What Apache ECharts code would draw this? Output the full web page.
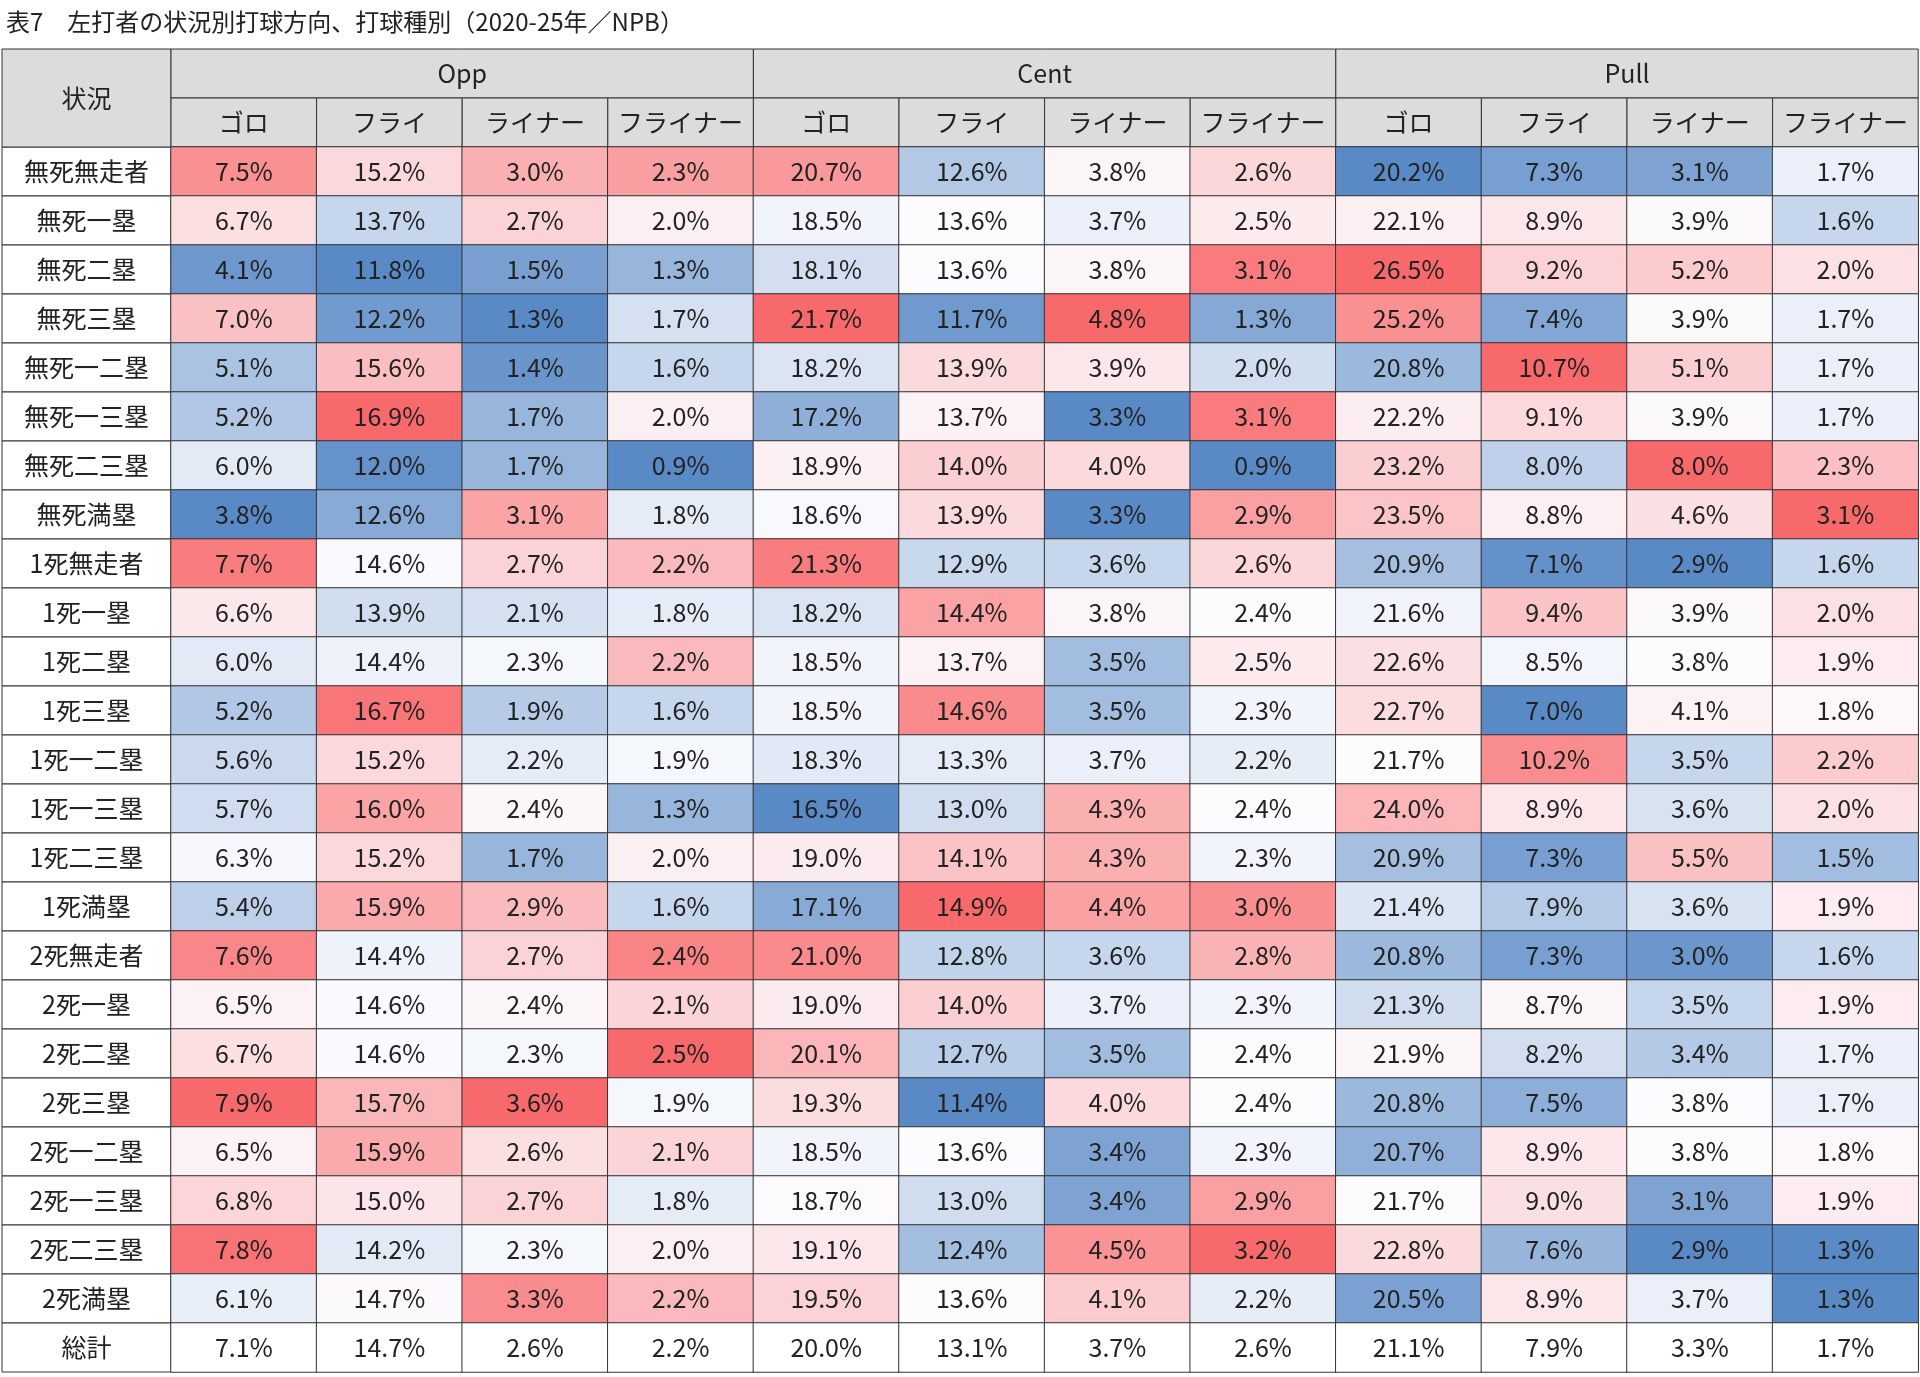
<!DOCTYPE html>
<html><head><meta charset="utf-8">
<script src="https://cdn.jsdelivr.net/npm/echarts@6/dist/echarts.min.js"></script>
<style>html,body{margin:0;padding:0;background:#fff}#c{width:1920px;height:1377px}</style>
</head><body><div id="c"></div>
<script>
const title = "表7　左打者の状況別打球方向、打球種別（2020-25年／NPB）";
const groups = ["Opp","Cent","Pull"];
const types = ["ゴロ","フライ","ライナー","フライナー"];
const rowHeader = "状況";
const situations = ["無死無走者","無死一塁","無死二塁","無死三塁","無死一二塁","無死一三塁","無死二三塁","無死満塁",
"1死無走者","1死一塁","1死二塁","1死三塁","1死一二塁","1死一三塁","1死二三塁","1死満塁",
"2死無走者","2死一塁","2死二塁","2死三塁","2死一二塁","2死一三塁","2死二三塁","2死満塁"];
const totalLabel = "総計";
const values = [
[7.5,15.2,3.0,2.3,20.7,12.6,3.8,2.6,20.2,7.3,3.1,1.7],
[6.7,13.7,2.7,2.0,18.5,13.6,3.7,2.5,22.1,8.9,3.9,1.6],
[4.1,11.8,1.5,1.3,18.1,13.6,3.8,3.1,26.5,9.2,5.2,2.0],
[7.0,12.2,1.3,1.7,21.7,11.7,4.8,1.3,25.2,7.4,3.9,1.7],
[5.1,15.6,1.4,1.6,18.2,13.9,3.9,2.0,20.8,10.7,5.1,1.7],
[5.2,16.9,1.7,2.0,17.2,13.7,3.3,3.1,22.2,9.1,3.9,1.7],
[6.0,12.0,1.7,0.9,18.9,14.0,4.0,0.9,23.2,8.0,8.0,2.3],
[3.8,12.6,3.1,1.8,18.6,13.9,3.3,2.9,23.5,8.8,4.6,3.1],
[7.7,14.6,2.7,2.2,21.3,12.9,3.6,2.6,20.9,7.1,2.9,1.6],
[6.6,13.9,2.1,1.8,18.2,14.4,3.8,2.4,21.6,9.4,3.9,2.0],
[6.0,14.4,2.3,2.2,18.5,13.7,3.5,2.5,22.6,8.5,3.8,1.9],
[5.2,16.7,1.9,1.6,18.5,14.6,3.5,2.3,22.7,7.0,4.1,1.8],
[5.6,15.2,2.2,1.9,18.3,13.3,3.7,2.2,21.7,10.2,3.5,2.2],
[5.7,16.0,2.4,1.3,16.5,13.0,4.3,2.4,24.0,8.9,3.6,2.0],
[6.3,15.2,1.7,2.0,19.0,14.1,4.3,2.3,20.9,7.3,5.5,1.5],
[5.4,15.9,2.9,1.6,17.1,14.9,4.4,3.0,21.4,7.9,3.6,1.9],
[7.6,14.4,2.7,2.4,21.0,12.8,3.6,2.8,20.8,7.3,3.0,1.6],
[6.5,14.6,2.4,2.1,19.0,14.0,3.7,2.3,21.3,8.7,3.5,1.9],
[6.7,14.6,2.3,2.5,20.1,12.7,3.5,2.4,21.9,8.2,3.4,1.7],
[7.9,15.7,3.6,1.9,19.3,11.4,4.0,2.4,20.8,7.5,3.8,1.7],
[6.5,15.9,2.6,2.1,18.5,13.6,3.4,2.3,20.7,8.9,3.8,1.8],
[6.8,15.0,2.7,1.8,18.7,13.0,3.4,2.9,21.7,9.0,3.1,1.9],
[7.8,14.2,2.3,2.0,19.1,12.4,4.5,3.2,22.8,7.6,2.9,1.3],
[6.1,14.7,3.3,2.2,19.5,13.6,4.1,2.2,20.5,8.9,3.7,1.3]];
const totals = [7.1,14.7,2.6,2.2,20.0,13.1,3.7,2.6,21.1,7.9,3.3,1.7];

// layout
const L = 2, LW = 169, CW = 145.6, TOP = 49, RH = 49;
const FONT = "'Noto Sans CJK JP', sans-serif";
const FS = 25;
const RED=[248,105,107], WHITE=[252,252,255], BLUE=[90,138,198];
function mix(a,b,t){return 'rgb('+a.map((v,i)=>Math.round(v+(b[i]-v)*t)).join(',')+')';}
function median(a){const s=[...a].sort((x,y)=>x-y);const n=s.length;return n%2?s[(n-1)/2]:(s[n/2-1]+s[n/2])/2;}
const cols = totals.map((_,j)=>values.map(r=>r[j]));
const stats = cols.map(c=>({min:Math.min(...c),max:Math.max(...c),med:median(c)}));
function colorFor(v,j){const s=stats[j];
  if(v>=s.med){return s.max===s.med?mix(WHITE,RED,0):mix(WHITE,RED,(v-s.med)/(s.max-s.med));}
  return mix(WHITE,BLUE,(s.med-v)/(s.med-s.min));}
const rowsAll = situations.concat([totalLabel]);
const data=[];
values.forEach((r,i)=>r.forEach((v,j)=>data.push({value:[j,i,v],itemStyle:{color:colorFor(v,j)}})));
totals.forEach((v,j)=>data.push({value:[j,situations.length,v],itemStyle:{color:'#ffffff'}}));

const g=[];
g.push({type:'text',left:6,top:10,style:{text:title,font:'24px '+FONT,fill:'#222'}});
const X0=L+LW;
const hdrFill='#dcdcdc', bc='#333';
// row header
g.push({type:'rect',shape:{x:L,y:TOP,width:LW,height:RH*2},style:{fill:hdrFill,stroke:bc,lineWidth:1}});
g.push({type:'text',x:L+LW/2,y:TOP+RH,style:{text:rowHeader,font:FS+'px '+FONT,fill:'#222',align:'center',verticalAlign:'middle'}});
groups.forEach((gname,gi)=>{
  const x=X0+gi*4*CW;
  g.push({type:'rect',shape:{x:x,y:TOP,width:CW*4,height:RH},style:{fill:hdrFill,stroke:bc,lineWidth:1}});
  g.push({type:'text',x:x+CW*2,y:TOP+RH/2,style:{text:gname,font:FS+'px '+FONT,fill:'#222',align:'center',verticalAlign:'middle'}});
  types.forEach((t,ti)=>{
    const xx=x+ti*CW;
    g.push({type:'rect',shape:{x:xx,y:TOP+RH,width:CW,height:RH},style:{fill:hdrFill,stroke:bc,lineWidth:1}});
    g.push({type:'text',x:xx+CW/2,y:TOP+RH*1.5,style:{text:t,font:FS+'px '+FONT,fill:'#222',align:'center',verticalAlign:'middle'}});
  });
});
rowsAll.forEach((r,i)=>{
  g.push({type:'rect',z:-1,shape:{x:L,y:TOP+RH*2+i*RH,width:LW,height:RH},style:{fill:'#fff',stroke:bc,lineWidth:1}});
});

const chart=echarts.init(document.getElementById('c'));
chart.setOption({
  animation:false,
  backgroundColor:'#fff',
  grid:{left:X0,top:TOP+RH*2,width:CW*12,height:RH*rowsAll.length},
  xAxis:{type:'category',data:totals.map((_,j)=>j),show:false},
  yAxis:{type:'category',data:rowsAll,inverse:true,axisLine:{show:false},axisTick:{show:false},
    axisLabel:{margin:LW/2,align:'center',fontSize:FS,fontFamily:FONT,color:'#222'}},
  series:[{type:'heatmap',data:data,
    itemStyle:{borderColor:bc,borderWidth:1},
    label:{show:true,fontSize:FS,fontFamily:FONT,color:'#222',formatter:p=>p.value[2].toFixed(1)+'%'},
    emphasis:{disabled:true}}],
  graphic:g
});
</script></body></html>
